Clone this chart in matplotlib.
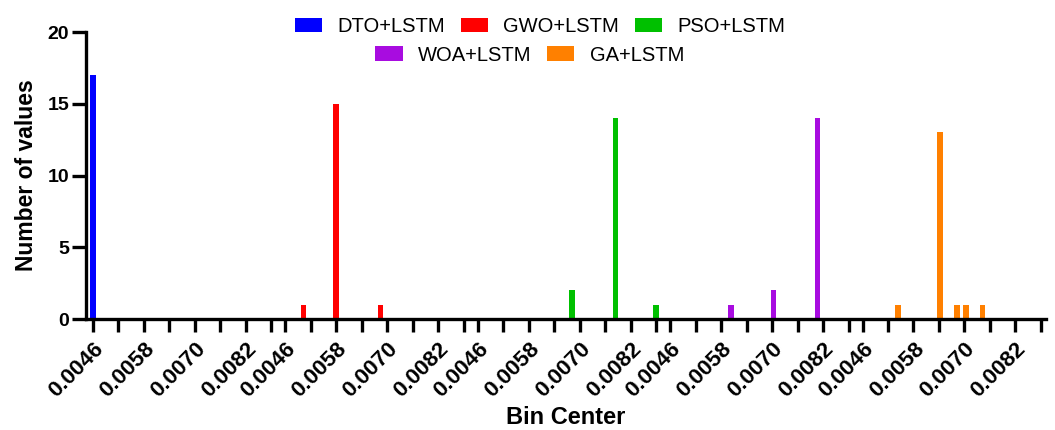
import matplotlib
matplotlib.use("Agg")
import matplotlib.pyplot as plt
from matplotlib.patches import Patch

plt.rcParams['font.family'] = ['Liberation Sans', 'DejaVu Sans']

# histogram data: bin centers and counts for each model
models = ["DTO+LSTM", "GWO+LSTM", "PSO+LSTM", "WOA+LSTM", "GA+LSTM"]
colors = ["#0000FF", "#FF0000", "#00C000", "#A80CE0", "#FF8000"]

dto_centers = [0.0046]
dto_counts = [17]
gwo_centers = [0.00503, 0.0058, 0.00684]
gwo_counts = [1, 15, 1]
pso_centers = [0.00682, 0.00784, 0.0088]
pso_counts = [2, 14, 1]
woa_centers = [0.00604, 0.00703, 0.00807]
woa_counts = [1, 2, 14]
ga_centers = [0.00543, 0.00643, 0.00683, 0.00703, 0.00742]
ga_counts = [1, 13, 1, 1, 1]

centers = [dto_centers, gwo_centers, pso_centers, woa_centers, ga_centers]
counts = [dto_counts, gwo_counts, pso_counts, woa_counts, ga_counts]

tick_vals = [0.0046, 0.0052, 0.0058, 0.0064, 0.0070, 0.0076, 0.0082, 0.0088]
tick_text = ["0.0046", "", "0.0058", "", "0.0070", "", "0.0082", ""]

# each model gets its own segment of the x axis
x0 = 0.0046
seg_len = 0.0042
gap = 0.00033
step = seg_len + gap

def seg_x(i, v):
    return i * step + (v - x0)

fig = plt.figure(figsize=(10.55, 4.3), dpi=100)
ax = fig.add_axes([0.0815, 0.258, 0.91, 0.6675])

for i in range(len(models)):
    xs = [seg_x(i, v) for v in centers[i]]
    ax.bar(xs, counts[i], width=0.00013, color=colors[i], edgecolor="none", zorder=2)

ticks = []
labels = []
for i in range(len(models)):
    for v, t in zip(tick_vals, tick_text):
        ticks.append(seg_x(i, v))
        labels.append(t)

ax.set_xticks(ticks)
ax.set_xticklabels(labels, rotation=45, ha="right", va="top", rotation_mode="anchor",
                   fontsize=16, fontweight="bold")
ax.set_xlim(-0.00016, 4 * step + seg_len + 0.00012)
ax.set_ylim(0, 20)
ax.set_yticks([0, 5, 10, 15, 20])
ax.tick_params(axis="y", labelsize=14, width=2.4, length=10, pad=2)
ax.tick_params(axis="x", width=2.4, length=9, pad=5)
for lab in ax.get_yticklabels():
    lab.set_fontweight("bold")

for s in ["top", "right"]:
    ax.spines[s].set_visible(False)
for s in ["left", "bottom"]:
    ax.spines[s].set_linewidth(2.4)

ax.set_xlabel("Bin Center", fontsize=17, fontweight="bold", labelpad=3)
ax.set_ylabel("Number of values", fontsize=16.5, fontweight="bold", labelpad=7)

handles = [Patch(facecolor=c, edgecolor="none") for c in colors]
leg1 = fig.legend(handles[:3], models[:3], loc="center", bbox_to_anchor=(0.512, 0.938),
                  ncol=3, frameon=False, fontsize=14.5, handlelength=1.35, handleheight=0.7,
                  handletextpad=0.75, columnspacing=0.8, borderpad=0)
leg2 = fig.legend(handles[3:], models[3:], loc="center", bbox_to_anchor=(0.502, 0.872),
                  ncol=2, frameon=False, fontsize=14.5, handlelength=1.35, handleheight=0.7,
                  handletextpad=0.75, columnspacing=0.8, borderpad=0)

fig.savefig("out.png", dpi=100)
